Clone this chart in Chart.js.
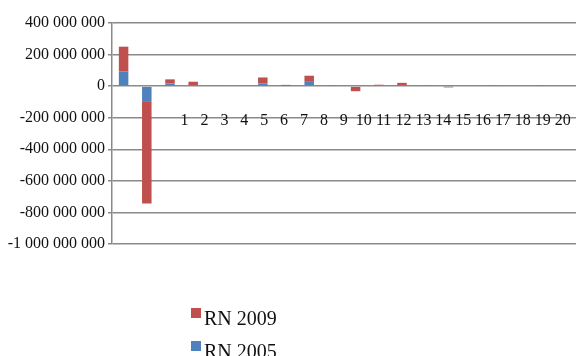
<!DOCTYPE html>
<html>
<head>
<meta charset="utf-8">
<script src="https://cdn.jsdelivr.net/npm/chart.js@4/dist/chart.umd.min.js"></script>
<style>
  html, body { margin: 0; padding: 0; background: #fff; }
  #wrap { position: relative; width: 576px; height: 356px; overflow: hidden; }
  #legend {
    position: absolute; left: 191px; top: 301px;
    font-family: "Liberation Serif", "Times New Roman", serif;
    font-size: 20px; color: #111; line-height: 20px;
  }
  .item { display: flex; align-items: center; height: 33px; white-space: nowrap; }
  .sw { width: 10px; height: 10px; margin-right: 3px; flex: none; align-self: flex-start; margin-top: 7px; }
</style>
</head>
<body>
<div id="wrap">
  <canvas id="c" width="576" height="356"></canvas>
  <div id="legend"></div>
</div>
<script>
// Row numbers of the table (one stacked bar per row)
const categories = ['1','2','3','4','5','6','7','8','9','10','11','12','13','14','15','16','17','18','19','20'];

// Result figures per row
const rn2005 = [92e6, -100e6, 17e6, 0, 0, 0, 17e6, 4e6, 32e6, 6e6, 0, 7e6, 0, 0, -4e6, 0, 0, 0, 0, 0];
const rn2009 = [158e6, -643e6, 26e6, 28e6, 6e6, 0, 38e6, 4e6, 34e6, 0, -32e6, 2e6, 21e6, 6e6, -4e6, 0, 6e6, 0, 6e6, 0];

// Value axis tick labels
const yTicks = [-1000000000, -800000000, -600000000, -400000000, -200000000, 0, 200000000, 400000000];

// Numbers printed along the row axis
const rowNumbers = [1,2,3,4,5,6,7,8,9,10,11,12,13,14,15,16,17,18,19,20];

const RED = '#C0504D';
const BLUE = '#4F81BD';
const GRID = '#8a8a8a';
const FONT = { family: "'Liberation Serif', 'Times New Roman', serif", size: 16 };

function spaced(v) {
  const s = Math.abs(v).toString().replace(/\B(?=(\d{3})+(?!\d))/g, ' ');
  return (v < 0 ? '-' : '') + s;
}

const chart = new Chart(document.getElementById('c'), {
  type: 'bar',
  data: {
    labels: categories,
    datasets: [
      { label: 'RN 2005', data: rn2005, backgroundColor: BLUE, xAxisID: 'x', yAxisID: 'y' },
      { label: 'RN 2009', data: rn2009, backgroundColor: RED, xAxisID: 'x', yAxisID: 'y' }
    ]
  },
  options: {
    responsive: false,
    animation: false,
    devicePixelRatio: 1,
    layout: { padding: { top: 23, bottom: 112, left: 0, right: 0 } },
    datasets: { bar: { categoryPercentage: 1, barPercentage: 0.41 } },
    plugins: { legend: { display: false }, tooltip: { enabled: false } },
    scales: {
      x: {
        type: 'category', stacked: true, display: false, offset: true
      },
      x2: {
        type: 'linear', axis: 'x', position: { y: 0 }, offset: false,
        min: -2.65, max: 20.67,
        afterBuildTicks: s => { s.ticks = rowNumbers.map(v => ({ value: v })); },
        afterFit: s => { s.paddingLeft = 0; s.paddingRight = 0; },
        grid: { display: false, offset: false }, border: { display: false },
        ticks: {
          padding: 17, autoSkip: false, maxRotation: 0, color: '#111', font: FONT,
          callback: v => categories[v - 1]
        }
      },
      y: {
        stacked: true, min: -1000000000, max: 400000000,
        afterBuildTicks: s => { s.ticks = yTicks.map(v => ({ value: v })); },
        afterFit: s => { s.width = 112; },
        grid: { color: GRID, lineWidth: 1.5, tickLength: 4, drawTicks: true },
        border: { color: GRID, width: 1.5 },
        ticks: { padding: 3, color: '#111', font: FONT, callback: v => spaced(v) }
      }
    }
  }
});

// Legend column, newest series first
const legend = document.getElementById('legend');
chart.data.datasets.slice().reverse().forEach(ds => {
  const item = document.createElement('div');
  item.className = 'item';
  const sw = document.createElement('span');
  sw.className = 'sw';
  sw.style.background = ds.backgroundColor;
  const txt = document.createElement('span');
  txt.textContent = ds.label;
  item.appendChild(sw);
  item.appendChild(txt);
  legend.appendChild(item);
});
</script>
</body>
</html>
